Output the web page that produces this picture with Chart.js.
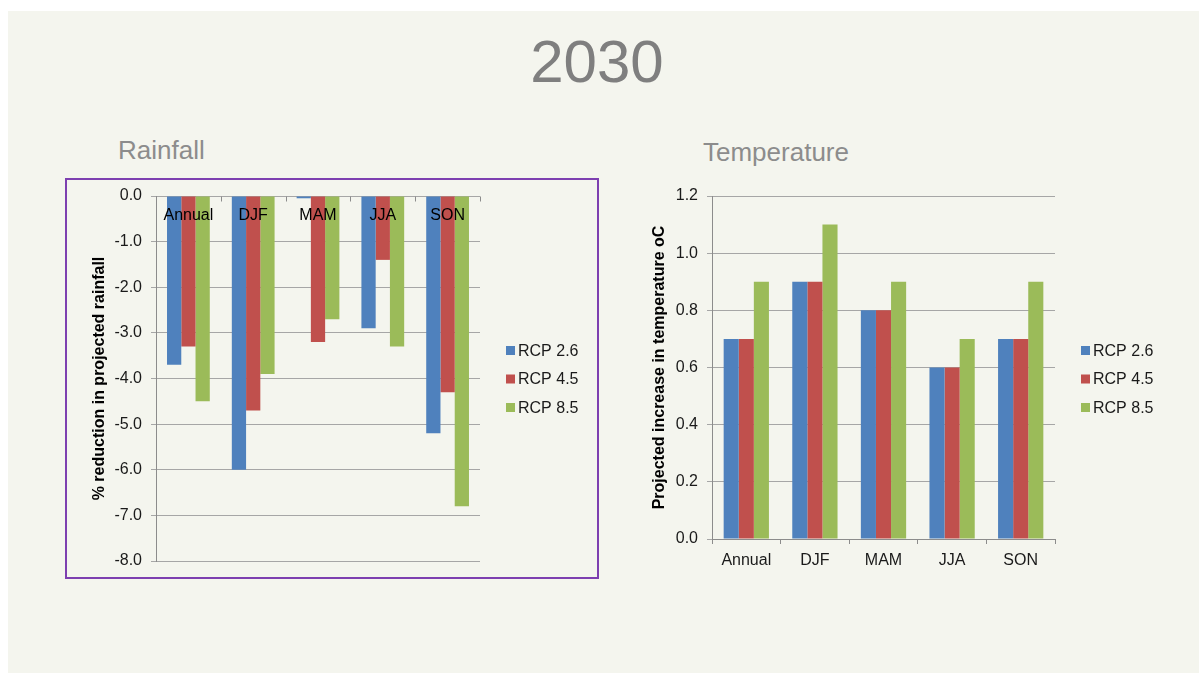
<!DOCTYPE html>
<html>
<head>
<meta charset="utf-8">
<title>2030 projections</title>
<script src="https://cdn.jsdelivr.net/npm/chart.js@4/dist/chart.umd.min.js"></script>
<style>
  html, body { margin: 0; padding: 0; background: #ffffff; }
  body { width: 1199px; height: 673px; position: relative; overflow: hidden;
         font-family: 'Liberation Sans', Arial, sans-serif; }
  #slide { position: absolute; left: 8px; top: 11px; right: 0; bottom: 0; background: #f4f5ee; }
  .heading { position: absolute; line-height: 1; white-space: nowrap; }
  #mainTitle { font-size: 60px; color: #7f7f7f; left: 0; width: 1194px; text-align: center; top: 32px; }
  #rainTitle { font-size: 26px; color: #8c8c8c; left: 118px; top: 137px; }
  #tempTitle { font-size: 26px; color: #8c8c8c; left: 703px; top: 139px; }
  #rainBox { position: absolute; left: 65px; top: 178px; width: 534px; height: 401px;
             border: 2px solid #7d3fb0; box-sizing: border-box; }
  canvas { position: absolute; }
  #rainChart { left: 68px; top: 180px; }
  #tempChart { left: 630px; top: 180px; }
</style>
</head>
<body>
<div id="slide"></div>
<div class="heading" id="mainTitle">2030</div>
<div class="heading" id="rainTitle">Rainfall</div>
<div class="heading" id="tempTitle">Temperature</div>
<div id="rainBox"></div>
<canvas id="rainChart" width="528" height="396"></canvas>
<canvas id="tempChart" width="569" height="420"></canvas>
<script>
// Seasons and scenarios
const categories = ['Annual', 'DJF', 'MAM', 'JJA', 'SON'];
const seriesNames = ['RCP 2.6', 'RCP 4.5', 'RCP 8.5'];
const seriesColors = ['#4f81bd', '#c0504d', '#9bbb59'];

// Change in rainfall (%)
const rainRcp26 = [-3.7, -6.0, -0.05, -2.9, -5.2];
const rainRcp45 = [-3.3, -4.7, -3.2, -1.4, -4.3];
const rainRcp85 = [-4.5, -3.9, -2.7, -3.3, -6.8];

// Increase in temperature (°C)
const tempRcp26 = [0.7, 0.9, 0.8, 0.6, 0.7];
const tempRcp45 = [0.7, 0.9, 0.8, 0.6, 0.7];
const tempRcp85 = [0.9, 1.1, 0.9, 0.7, 0.9];

// Axis ranges
const rainAxis = { min: -8, max: 0, step: 1 };
const tempAxis = { min: 0, max: 1.2, step: 0.2 };

Chart.defaults.font.family = "'Liberation Sans', Arial, sans-serif";
Chart.defaults.font.size = 16;
Chart.defaults.color = '#1a1a1a';

const GRID = '#a6a6a6';
const AXIS = '#8c8c8c';
const LEGEND_MID_Y = 199; // vertical middle of the legend, canvas pixels

function makeDatasets(values) {
  return values.map((v, i) => ({
    label: seriesNames[i],
    data: v,
    backgroundColor: seriesColors[i],
    borderWidth: 0,
    categoryPercentage: 0.66,
    barPercentage: 1.0
  }));
}

// keep the plot area exactly where the layout padding puts it
function fixedFit(size, prop) {
  return function (scale) {
    scale[prop] = size;
    scale.paddingTop = 0; scale.paddingBottom = 0;
    scale.paddingLeft = 0; scale.paddingRight = 0;
  };
}

// Legend drawn to the right of the plot, square swatches
const sideLegend = {
  id: 'sideLegend',
  afterDraw(chart) {
    const ctx = chart.ctx;
    const x0 = chart.chartArea.right + 26;
    ctx.save();
    ctx.font = "16px 'Liberation Sans', Arial, sans-serif";
    ctx.textBaseline = 'middle';
    ctx.textAlign = 'left';
    chart.data.datasets.forEach((ds, i) => {
      const y = LEGEND_MID_Y + (i - 1) * 28.5;
      ctx.fillStyle = ds.backgroundColor;
      ctx.fillRect(x0, y - 4.5, 9, 9);
      ctx.fillStyle = '#1a1a1a';
      ctx.fillText(ds.label, x0 + 12, y + 1);
    });
    ctx.restore();
  }
};

// Category labels and tick marks hanging under the zero line
const zeroLineLabels = {
  id: 'zeroLineLabels',
  afterDatasetsDraw(chart) {
    const ctx = chart.ctx;
    const xs = chart.scales.x, ys = chart.scales.y;
    const y0 = Math.round(ys.getPixelForValue(0)) + 0.5;
    ctx.save();
    ctx.strokeStyle = AXIS;
    ctx.lineWidth = 1;
    ctx.beginPath();
    for (let i = 0; i <= categories.length; i++) {
      const x = Math.round(xs.getPixelForValue(i - 0.5)) + 0.5;
      ctx.moveTo(x, y0);
      ctx.lineTo(x, y0 + 5);
    }
    ctx.stroke();
    ctx.font = "16px 'Liberation Sans', Arial, sans-serif";
    ctx.fillStyle = '#000000';
    ctx.textAlign = 'center';
    ctx.textBaseline = 'middle';
    categories.forEach((c, i) => {
      ctx.fillText(c, xs.getPixelForValue(i), y0 + 19.5);
    });
    ctx.restore();
  }
};

new Chart(document.getElementById('rainChart'), {
  type: 'bar',
  data: {
    labels: categories,
    datasets: makeDatasets([rainRcp26, rainRcp45, rainRcp85])
  },
  options: {
    responsive: false,
    animation: false,
    layout: { padding: { left: 0, top: 16, right: 116, bottom: 15 } },
    plugins: { legend: { display: false }, tooltip: { enabled: false } },
    scales: {
      x: { display: false },
      y: {
        min: rainAxis.min, max: rainAxis.max,
        afterFit: fixedFit(88, 'width'),
        ticks: { stepSize: rainAxis.step, padding: 9, color: '#1a1a1a',
                 callback: v => Number(v).toFixed(1) },
        grid: { color: GRID, tickLength: 5, lineWidth: 1 },
        border: { color: AXIS, width: 1 },
        title: { display: true, text: '% reduction in projected rainfall',
                 font: { size: 16, weight: 'bold' }, color: '#000000',
                 padding: { top: 22, bottom: 0 } }
      }
    }
  },
  plugins: [zeroLineLabels, sideLegend]
});

new Chart(document.getElementById('tempChart'), {
  type: 'bar',
  data: {
    labels: categories,
    datasets: makeDatasets([tempRcp26, tempRcp45, tempRcp85])
  },
  options: {
    responsive: false,
    animation: false,
    layout: { padding: { left: 0, top: 16, right: 144, bottom: 21 } },
    plugins: { legend: { display: false }, tooltip: { enabled: false } },
    scales: {
      x: {
        afterFit: fixedFit(40, 'height'),
        ticks: { padding: 7, color: '#1a1a1a' },
        grid: { offset: true, drawOnChartArea: false, tickLength: 5, color: AXIS },
        border: { color: AXIS, width: 1 }
      },
      y: {
        min: tempAxis.min, max: tempAxis.max,
        afterFit: fixedFit(82, 'width'),
        ticks: { stepSize: tempAxis.step, padding: 9, color: '#1a1a1a',
                 callback: v => Number(v).toFixed(1) },
        grid: { color: GRID, tickLength: 5, lineWidth: 1 },
        border: { color: AXIS, width: 1 },
        title: { display: true, text: 'Projected increase in temperature oC',
                 font: { size: 16, weight: 'bold' }, color: '#000000',
                 padding: { top: 20, bottom: 0 } }
      }
    }
  },
  plugins: [sideLegend]
});
</script>
</body>
</html>
